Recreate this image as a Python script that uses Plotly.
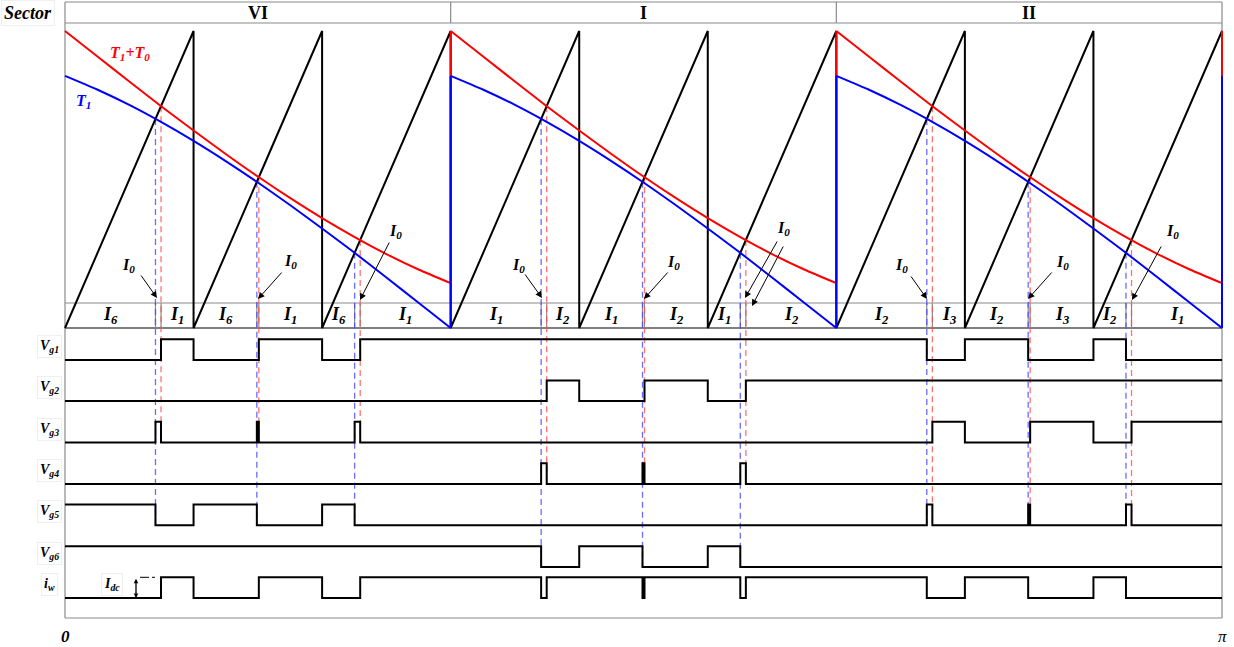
import numpy as np
import plotly.graph_objects as go

# ---------------- data ----------------
sector_names = ["VI", "I", "II"]
carriers_per_sector = 3

# modulation references over one 60-degree sector (per-unit of the carrier period)
angle_deg = [0, 5, 10, 15, 20, 25, 30, 35, 40, 45, 50, 55, 60]
t1_plus_t0 = [1.000, 0.915, 0.830, 0.746, 0.665, 0.586, 0.510, 0.438, 0.370, 0.307, 0.249, 0.197, 0.151]
t1 = [0.849, 0.803, 0.751, 0.693, 0.630, 0.562, 0.490, 0.414, 0.335, 0.254, 0.170, 0.085, 0.000]

# active current vectors in each carrier period: (before T1 crossing, after T1+T0 crossing)
period_vectors = [(6, 1), (6, 1), (6, 1), (1, 2), (1, 2), (1, 2), (2, 3), (2, 3), (2, 3)]
# subscripts printed in the vector strip
period_labels = [("6", "1"), ("6", "1"), ("6", "1"),
                 ("1", "2"), ("1", "2"), ("1", "2"),
                 ("2", "3"), ("2", "3"), ("2", "1")]
# conducting switches of each active vector, and the zero vector used in each sector
vector_switches = {1: (1, 6), 2: (1, 2), 3: (3, 2), 6: (5, 6)}
zero_switches = [(3, 6), (1, 4), (5, 2)]

signal_names = ["V", "V", "V", "V", "V", "V", "i"]
signal_subs = ["g1", "g2", "g3", "g4", "g5", "g6", "w"]

# ---------------- geometry (pixels) ----------------
W, H = 1234, 647
X0_PX, X1_PX = 65, 1222          # 0 .. pi
V0_PX, V1_PX = 328, 31           # carrier 0 .. 1
ROW_HIGH_PX = [339.3, 380.4, 421.7, 463.2, 504.6, 546.2, 577.3]
ROW_UNIT_PX = 20.7
PAD = 0.4
HEAD_TOP, HEAD_BOT = 2, 23
STRIP_TOP = 303
FRAME_BOT = 618

FONT = "Liberation Serif, Times New Roman, serif"
RED = "#ff0000"
BLUE = "#0000ff"
GRAY = "#8a8a8a"

SECTOR = np.pi / 3
P = SECTOR / carriers_per_sector
n_periods = len(period_vectors)
XMAX = n_periods * P


def xd(px):
    return (px - X0_PX) * np.pi / (X1_PX - X0_PX)


def yp(px):
    return 1 - px / H


def v_to_px(v):
    return V0_PX - v * (V0_PX - V1_PX)


fig = go.Figure()

# ---------------- carrier and references ----------------
saw_x, saw_y = [0.0], [0.0]
for k in range(n_periods):
    saw_x += [(k + 1) * P, (k + 1) * P]
    saw_y += [1.0, 0.0]
fig.add_trace(go.Scatter(x=saw_x, y=saw_y, mode="lines",
                         line=dict(color="black", width=2), hoverinfo="skip"))

# references: smooth curve inside each sector, vertical reset at each sector end
for values, col in ((t1_plus_t0, RED), (t1, BLUE)):
    for s in range(len(sector_names)):
        xs = [s * SECTOR + np.radians(a) for a in angle_deg]
        fig.add_trace(go.Scatter(x=xs, y=values, mode="lines",
                                 line=dict(color=col, width=2, shape="spline", smoothing=0.6),
                                 hoverinfo="skip"))
        fig.add_trace(go.Scatter(x=[(s + 1) * SECTOR, (s + 1) * SECTOR], y=[values[-1], values[0]],
                                 mode="lines", line=dict(color=col, width=2), hoverinfo="skip"))


def ref_value(theta, values):
    s = min(int(theta // SECTOR), len(sector_names) - 1)
    return float(np.interp(np.degrees(theta - s * SECTOR), angle_deg, values))


def crossing(k, values):
    s = k // carriers_per_sector
    th = np.linspace(k * P, (k + 1) * P, 4001)
    d = (th - k * P) / P - np.interp(np.degrees(th - s * SECTOR), angle_deg, values)
    i = int(np.argmax(d >= 0))
    return th[i - 1] - d[i - 1] * (th[i] - th[i - 1]) / (d[i] - d[i - 1])


tb = [crossing(k, t1) for k in range(n_periods)]
tr = [crossing(k, t1_plus_t0) for k in range(n_periods)]

# ---------------- switching states ----------------
intervals = []
for k, (a, b) in enumerate(period_vectors):
    s = k // carriers_per_sector
    intervals.append((k * P, set(vector_switches[a])))
    intervals.append((tb[k], set(zero_switches[s])))
    intervals.append((tr[k], set(vector_switches[b])))
starts = [iv[0] for iv in intervals] + [XMAX]
gate_states = [[1 if g in sw else 0 for (_, sw) in intervals] for g in range(1, 7)]
iw_states = [g1 - g4 for g1, g4 in zip(gate_states[0], gate_states[3])]
signals = gate_states + [iw_states]

for i, st in enumerate(signals):
    fig.add_trace(go.Scatter(x=starts, y=st + [st[-1]], mode="lines",
                             line=dict(color="black", width=2, shape="hv"),
                             yaxis=f"y{i + 2}", hoverinfo="skip"))

shapes = []


def hline(y_px, x0, x1, color=GRAY, width=1.2):
    shapes.append(dict(type="line", xref="x", yref="paper", x0=x0, x1=x1,
                       y0=yp(y_px), y1=yp(y_px), line=dict(color=color, width=width), layer="below"))


def vline(x, y0_px, y1_px, color=GRAY, width=1.2, dash=None):
    ln = dict(color=color, width=width)
    if dash:
        ln["dash"] = dash
    shapes.append(dict(type="line", xref="x", yref="paper", x0=x, x1=x,
                       y0=yp(y0_px), y1=yp(y1_px), line=ln, layer="below"))


# frame and sector header
hline(HEAD_TOP, 0, XMAX)
hline(HEAD_BOT, 0, XMAX)
hline(FRAME_BOT, 0, XMAX)
vline(0, HEAD_TOP, FRAME_BOT)
vline(XMAX, HEAD_TOP, FRAME_BOT)
for s in range(1, len(sector_names)):
    vline(s * SECTOR, HEAD_TOP, HEAD_BOT)

# vector strip
hline(STRIP_TOP, 0, XMAX)
hline(V0_PX, 0, XMAX, color="#555555", width=1.5)
for k in range(n_periods):
    vline(tb[k], STRIP_TOP, V0_PX)
    vline(tr[k], STRIP_TOP, V0_PX)

# dashed projection lines from the crossings down to the switched gate rows
for k in range(n_periods):
    for j, t, vals, col in ((3 * k + 1, tb[k], t1, "rgba(70,70,255,0.8)"),
                            (3 * k + 2, tr[k], t1_plus_t0, "rgba(255,80,80,0.8)")):
        changed = [g for g in range(6) if gate_states[g][j] != gate_states[g][j - 1]]
        low = ROW_HIGH_PX[max(changed)] + ROW_UNIT_PX
        vline(t, v_to_px(ref_value(t, vals)), low, color=col, width=1.3, dash="6px,4px")

# Idc marker guide
shapes.append(dict(type="line", xref="paper", yref="paper", x0=140 / W, x1=157 / W,
                   y0=yp(ROW_HIGH_PX[6]), y1=yp(ROW_HIGH_PX[6]),
                   line=dict(color="black", width=1, dash="dashdot")))

# ---------------- annotations ----------------
ann = []


def text(x, y, s, size, color="black", xref="paper", yref="paper", box=False, xanchor="center"):
    d = dict(x=x, y=y, xref=xref, yref=yref, text=s, showarrow=False,
             font=dict(family=FONT, size=size, color=color), xanchor=xanchor, yanchor="middle")
    if box:
        d.update(bordercolor="#efefef", borderwidth=1, borderpad=2, bgcolor="white")
    ann.append(d)


def arrow(tail_px, tip_px, width=1, size=1.3, both=False):
    d = dict(x=tip_px[0] / W, y=yp(tip_px[1]), xref="paper", yref="paper", text="",
             showarrow=True, ax=tail_px[0] - tip_px[0], ay=tail_px[1] - tip_px[1],
             axref="pixel", ayref="pixel", arrowhead=2, arrowsize=size, arrowwidth=width,
             arrowcolor="black", standoff=0)
    if both:
        d.update(arrowside="end+start", startarrowhead=2, startarrowsize=size)
    ann.append(d)


text(28 / W, yp(13), "<b><i>Sector</i></b>", 18, box=True)
for s, name in enumerate(sector_names):
    text((s + 0.5) * SECTOR, yp(13), f"<b>{name}</b>", 18, xref="x")

text(130 / W, yp(53), "<b><i>T<sub>1</sub>+T<sub>0</sub></i></b>", 16, color=RED)
text(83 / W, yp(101), "<b><i>T<sub>1</sub></i></b>", 16, color=BLUE)

for k, (la, lb) in enumerate(period_labels):
    text((k * P + tb[k]) / 2, yp(315), f"<b><i>I<sub>{la}</sub></i></b>", 18, xref="x")
    text((tr[k] + (k + 1) * P) / 2, yp(315), f"<b><i>I<sub>{lb}</sub></i></b>", 18, xref="x")

# zero-vector call-outs: label position, then (tail, tip) of each arrow
zero_callouts = [
    ((128, 266), [((140, 274), (157, 298))]),
    ((290, 261), [((283, 271), (258, 299))]),
    ((395, 232), [((390, 241), (360, 300))]),
    ((518, 265), [((524, 273), (542, 298))]),
    ((673, 262), [((669, 271), (644, 299))]),
    ((783, 229), [((778, 240), (745, 298)), ((784, 245), (752, 306))]),
    ((902, 265), [((910, 275), (927, 299))]),
    ((1062, 262), [((1053, 271), (1028, 299))]),
    ((1172, 232), [((1162, 245), (1132, 300))]),
]
for (lx, ly), arrows in zero_callouts:
    text(lx / W, yp(ly), "<b><i>I<sub>0</sub></i></b>", 16)
    for tail, tip in arrows:
        arrow(tail, tip)

for i, (nm, sub) in enumerate(zip(signal_names, signal_subs)):
    yc = ROW_HIGH_PX[i] + ROW_UNIT_PX / 2 - 3
    text(49 / W, yp(yc), f"<b><i>{nm}</i></b><sub><b><i>{sub}</i></b></sub>", 14, box=True)

text(112 / W, yp(584), "<b><i>I</i></b><sub><b><i>dc</i></b></sub>", 14, box=True)
arrow((136, ROW_HIGH_PX[6]), (136, ROW_HIGH_PX[6] + ROW_UNIT_PX), width=1.3, size=0.7, both=True)

text(X0_PX / W, yp(636), "<b><i>0</i></b>", 17)
text(X1_PX / W, yp(636), "<i>π</i>", 17)

# ---------------- layout ----------------
layout = dict(
    width=W, height=H, margin=dict(l=0, r=0, t=0, b=0),
    paper_bgcolor="white", plot_bgcolor="rgba(0,0,0,0)", showlegend=False,
    xaxis=dict(range=[xd(0), xd(W)], domain=[0, 1], visible=False, fixedrange=True),
    yaxis=dict(range=[(V0_PX - H) / (V0_PX - V1_PX), V0_PX / (V0_PX - V1_PX)],
               domain=[0, 1], visible=False, fixedrange=True),
    shapes=shapes, annotations=ann,
)
for i, hi in enumerate(ROW_HIGH_PX):
    lo = hi + ROW_UNIT_PX
    layout[f"yaxis{i + 2}"] = dict(
        domain=[yp(lo + PAD * ROW_UNIT_PX), yp(hi - PAD * ROW_UNIT_PX)],
        range=[-PAD, 1 + PAD], anchor="x", visible=False, fixedrange=True)
fig.update_layout(**layout)

fig.write_html("out.html")
